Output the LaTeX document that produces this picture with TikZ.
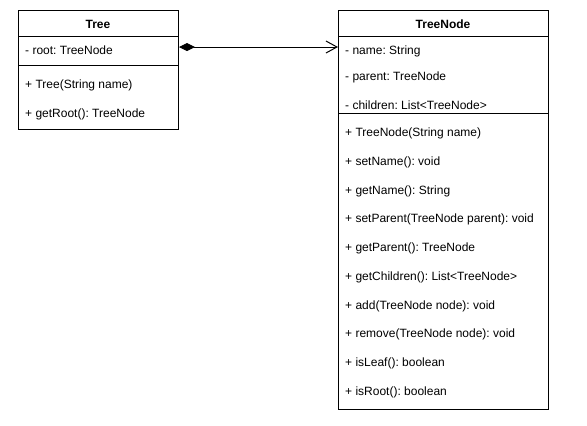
\documentclass[tikz,border=0pt]{standalone}
\usepackage{fontspec}
\setmainfont{Liberation Sans}
\usetikzlibrary{arrows.meta}
\frenchspacing
\tikzset{
  umlbox/.style={draw=black, line width=1pt, fill=white, inner sep=0pt, anchor=north west},
  sepline/.style={draw=black, line width=1pt},
  member/.style={anchor=base west, inner sep=0pt, font=\fontsize{12}{14}\selectfont\frenchspacing},
  title/.style={anchor=base, inner sep=0pt, font=\fontsize{12}{14}\selectfont\bfseries},
  composition/.style={draw=black, line width=1pt, {Diamond[length=16pt,width=8pt]}-{Straight Barb[length=11pt,width=12pt]}}
}
\begin{document}
\begin{tikzpicture}[x=1pt,y=-1pt]
\useasboundingbox[fill=white] (0,0) rectangle (587,426);
% Tree class
\node[umlbox, minimum width=160pt, minimum height=119pt] (treebox) at (18,10) {};
\draw[sepline] (treebox.north west) ++(0,26) -- ++(160,0);
\draw[sepline] (treebox.north west) ++(0,55) -- ++(160,0);
\node[title] (treetitle) at (98,28) {Tree};
\node[member] (treeroot) at (25,54) {- root: TreeNode};
\node[member] (treector) at (25,88) {+ Tree(String name)};
\node[member] (treegetroot) at (25,117) {+ getRoot(): TreeNode};
% TreeNode class
\node[umlbox, minimum width=210pt, minimum height=399pt] (nodebox) at (338,10) {};
\draw[sepline] (nodebox.north west) ++(0,26) -- ++(210,0);
\draw[sepline] (nodebox.north west) ++(0,103.5) -- ++(210,0);
\node[title] (nodetitle) at (443,28) {TreeNode};
\node[member] (nname) at (345,54) {- name: String};
\node[member] (nparent) at (345,80.5) {- parent: TreeNode};
\node[member] (nchildren) at (345,109) {- children: List<TreeNode>};
\node[member] (m1) at (345,136) {+ TreeNode(String name)};
\node[member] (m2) at (345,165) {+ setName(): void};
\node[member] (m3) at (345,194) {+ getName(): String};
\node[member] (m4) at (345,222.5) {+ setParent(TreeNode parent): void};
\node[member] (m5) at (345,251) {+ getParent(): TreeNode};
\node[member] (m6) at (345,280) {+ getChildren(): List<TreeNode>};
\node[member] (m7) at (345,309) {+ add(TreeNode node): void};
\node[member] (m8) at (345,337.5) {+ remove(TreeNode node): void};
\node[member] (m9) at (345,366) {+ isLeaf(): boolean};
\node[member] (m10) at (345,395) {+ isRoot(): boolean};
% composition
\draw[composition] ([yshift=-37pt]treebox.north east) -- ([yshift=-37pt]nodebox.north west);
\end{tikzpicture}
\end{document}
